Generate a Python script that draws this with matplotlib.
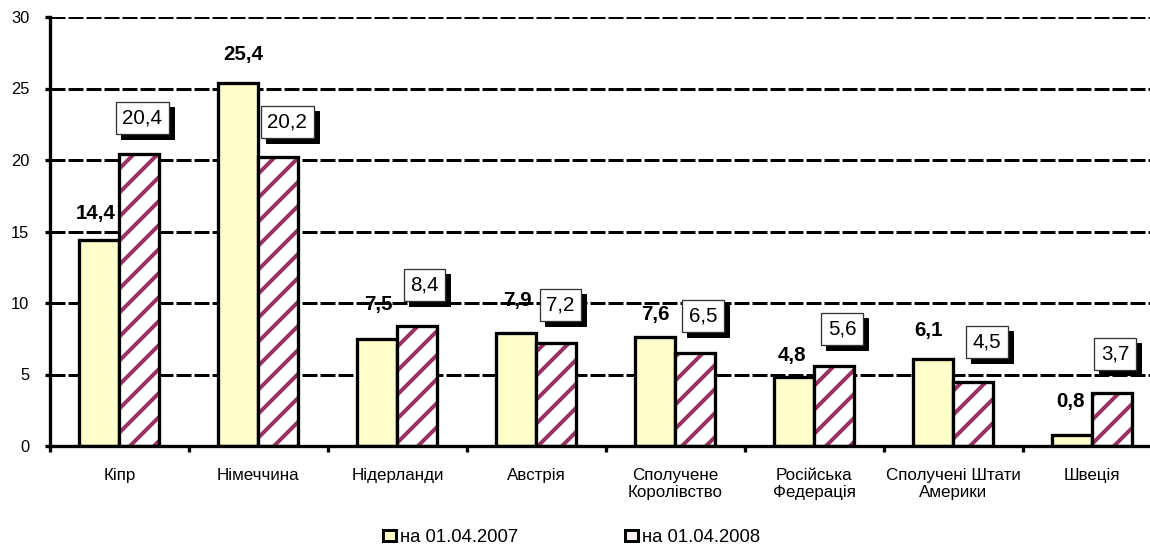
import matplotlib
matplotlib.use("Agg")
import matplotlib.pyplot as plt
from matplotlib.patches import Patch
import numpy as np

# dpi 72 so one point is one pixel (keeps the hatch spacing close to the original)
plt.rcParams['font.family'] = ['Liberation Sans', 'DejaVu Sans']
plt.rcParams['hatch.linewidth'] = 4.0

countries = ['Кіпр', 'Німеччина', 'Нідерланди', 'Австрія', 'Сполучене\nКоролівство',
             'Російська\nФедерація', 'Сполучені Штати\nАмерики', 'Швеція']
vals_2007 = [14.4, 25.4, 7.5, 7.9, 7.6, 4.8, 6.1, 0.8]
vals_2008 = [20.4, 20.2, 8.4, 7.2, 6.5, 5.6, 4.5, 3.7]
series_names = ['на 01.04.2007', 'на 01.04.2008']
yticks = [0, 5, 10, 15, 20, 25, 30]

# label offsets in pixels, as placed in the original
off07_dx = [-4, 5, 1, 1, 0, -2, -5, -2]
off07_dy = [27, 28, 34, 33, 23, 22, 28, 33]
off08_dx = [3, 9, 7, 4, 8, 8, 14, 3]
off08_dy = [36, 35, 41, 38, 37, 37, 40, 39]

yellow = '#FFFFCC'
plum = '#993366'
w = 0.288

fig = plt.figure(figsize=(1150 / 72, 546 / 72), dpi=72)
ax = fig.add_axes([50 / 1150, 100 / 546, 1111.5 / 1150, 429 / 546])

x = np.arange(len(countries))
ax.bar(x - w / 2, vals_2007, w, color=yellow, edgecolor='black', linewidth=3.3, zorder=2)
ax.bar(x + w / 2, vals_2008, w, color='white', edgecolor=plum, hatch='/', linewidth=0, zorder=2)
ax.bar(x + w / 2, vals_2008, w, fill=False, edgecolor='black', linewidth=3.3, zorder=2.1)

ax.set_xlim(-0.5, 7.5)
ax.set_ylim(0, 30)
ax.set_yticks(yticks)
ax.set_axisbelow(True)
ax.yaxis.grid(True, color='black', linewidth=3, linestyle=(0, (5, 1)), zorder=0.5)

for s in ['top', 'right']:
    ax.spines[s].set_visible(False)
for s in ['left', 'bottom']:
    ax.spines[s].set_linewidth(3.3)
    ax.spines[s].set_zorder(3)

ax.tick_params(axis='y', length=5.5, width=3.3, pad=15, labelsize=16.5)
ax.set_xticks(x)
ax.set_xticklabels(countries, fontsize=17)
ax.tick_params(axis='x', which='major', length=0, pad=22)
ax.set_xticks(np.arange(-0.5, 8, 1), minor=True)
ax.tick_params(axis='x', which='minor', length=5.5, width=3.3)

for i in range(len(countries)):
    v = vals_2007[i]
    ax.annotate(f'{v:.1f}'.replace('.', ','), (x[i] - w / 2, v),
                xytext=(off07_dx[i], off07_dy[i]), textcoords='offset pixels',
                ha='center', va='center', fontsize=20.5, fontweight='bold', zorder=0.3)
    v = vals_2008[i]
    txt = f'{v:.1f}'.replace('.', ',')
    # shadow box first, then the white box on top
    ax.annotate(txt, (x[i] + w / 2, v),
                xytext=(off08_dx[i] + 5, off08_dy[i] - 5), textcoords='offset pixels',
                ha='center', va='center', fontsize=20.5, color='black',
                bbox=dict(boxstyle='square,pad=0.32', fc='black', ec='black', lw=1), zorder=4)
    ax.annotate(txt, (x[i] + w / 2, v),
                xytext=(off08_dx[i], off08_dy[i]), textcoords='offset pixels',
                ha='center', va='center', fontsize=20.5,
                bbox=dict(boxstyle='square,pad=0.32', fc='white', ec='#333333', lw=1.3), zorder=5)

handles = [Patch(facecolor=yellow, edgecolor='black', linewidth=3),
           Patch(facecolor='#FBEFF4', edgecolor='black', linewidth=3)]
fig.legend(handles, series_names, loc='center', bbox_to_anchor=(0.497, 0.016),
           ncol=2, frameon=False, fontsize=18.5, handlelength=0.7, handleheight=0.55,
           handletextpad=0.2, columnspacing=5.8)

fig.savefig('out.png', dpi=72)
